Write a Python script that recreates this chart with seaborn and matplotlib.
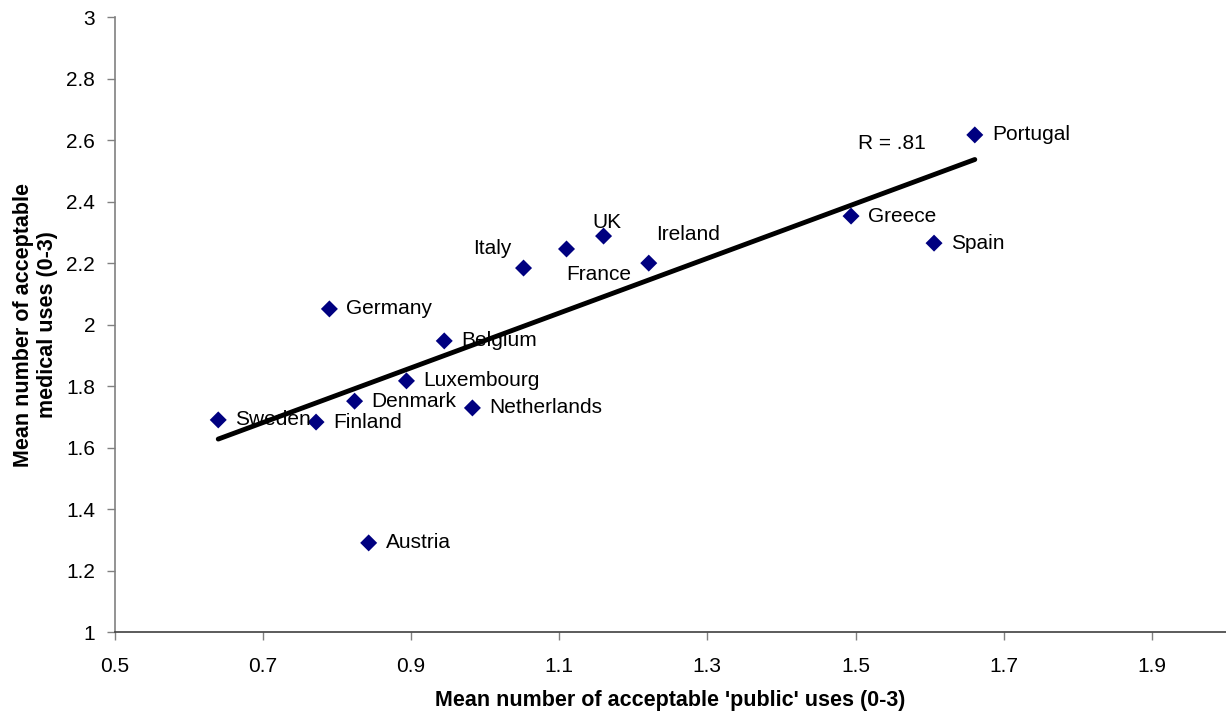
import matplotlib
matplotlib.use('Agg')
import matplotlib.pyplot as plt
import seaborn as sns
import pandas as pd
import numpy as np

countries = ['Sweden', 'Finland', 'Denmark', 'Luxembourg', 'Belgium', 'Germany',
             'Netherlands', 'Austria', 'Italy', 'France', 'UK', 'Ireland',
             'Greece', 'Spain', 'Portugal']
public_uses = [0.640, 0.772, 0.824, 0.894, 0.945, 0.790,
               0.983, 0.843, 1.052, 1.110, 1.160, 1.221,
               1.494, 1.606, 1.661]
medical_uses = [1.690, 1.683, 1.751, 1.817, 1.947, 2.051,
                1.729, 1.290, 2.184, 2.246, 2.288, 2.200,
                2.353, 2.265, 2.617]
x_ticks = [0.5, 0.7, 0.9, 1.1, 1.3, 1.5, 1.7, 1.9]
y_ticks = [1, 1.2, 1.4, 1.6, 1.8, 2, 2.2, 2.4, 2.6, 2.8, 3]

df = pd.DataFrame({'country': countries, 'public': public_uses, 'medical': medical_uses})

sns.set_style('ticks')
plt.rcParams['font.family'] = ['Liberation Sans', 'DejaVu Sans']
plt.rcParams['text.color'] = 'black'
plt.rcParams['axes.labelcolor'] = 'black'

fig = plt.figure(figsize=(12.26, 7.15), dpi=100)
ax = fig.add_axes([0.0934, 0.116, 0.9066, 0.860])

sns.regplot(data=df, x='public', y='medical', scatter=False, ci=None, truncate=True,
            color='black', line_kws={'linewidth': 3.5, 'solid_capstyle': 'round'}, ax=ax)
sns.scatterplot(data=df, x='public', y='medical', marker='D', s=75, color='#000080',
                edgecolor='none', ax=ax, zorder=3)

# label offsets in pixels (most labels sit to the right of the marker)
special = {'Italy': (-12, 20, 'right'), 'France': (0, -26, 'left'),
           'UK': (-11, 14, 'left'), 'Ireland': (7, 29, 'left')}
for c, xv, yv in zip(countries, public_uses, medical_uses):
    dx, dy, ha = special.get(c, (17, 0, 'left'))
    ax.annotate(c, (xv, yv), xytext=(dx, dy), textcoords='offset pixels',
                ha=ha, va='center', fontsize=15, color='black', zorder=4)

ax.annotate('R = .81', (1.661, 2.541), xytext=(-117, 5), textcoords='offset pixels',
            ha='left', va='bottom', fontsize=15)

ax.set_xlim(0.5, 2.0)
ax.set_ylim(1, 3)
ax.set_xticks(x_ticks)
ax.set_xticklabels([f'{t:g}' for t in x_ticks])
ax.set_yticks(y_ticks)
ax.set_yticklabels([f'{t:g}' for t in y_ticks])
ax.tick_params(labelsize=15, length=6, width=1, color='#808080', labelcolor='black')
ax.tick_params(axis='x', pad=12)
ax.tick_params(axis='y', pad=8)
sns.despine(ax=ax)
ax.spines['left'].set_color('#808080')
ax.spines['bottom'].set_color('#404040')
for s in ['left', 'bottom']:
    ax.spines[s].set_linewidth(1.2)

ax.set_xlabel("Mean number of acceptable 'public' uses (0-3)", fontsize=15.5,
              fontweight='bold', labelpad=10)
ax.set_ylabel('Mean number of acceptable\nmedical uses (0-3)', fontsize=15.5,
              fontweight='bold', labelpad=6)

fig.savefig('out.png', dpi=100)
